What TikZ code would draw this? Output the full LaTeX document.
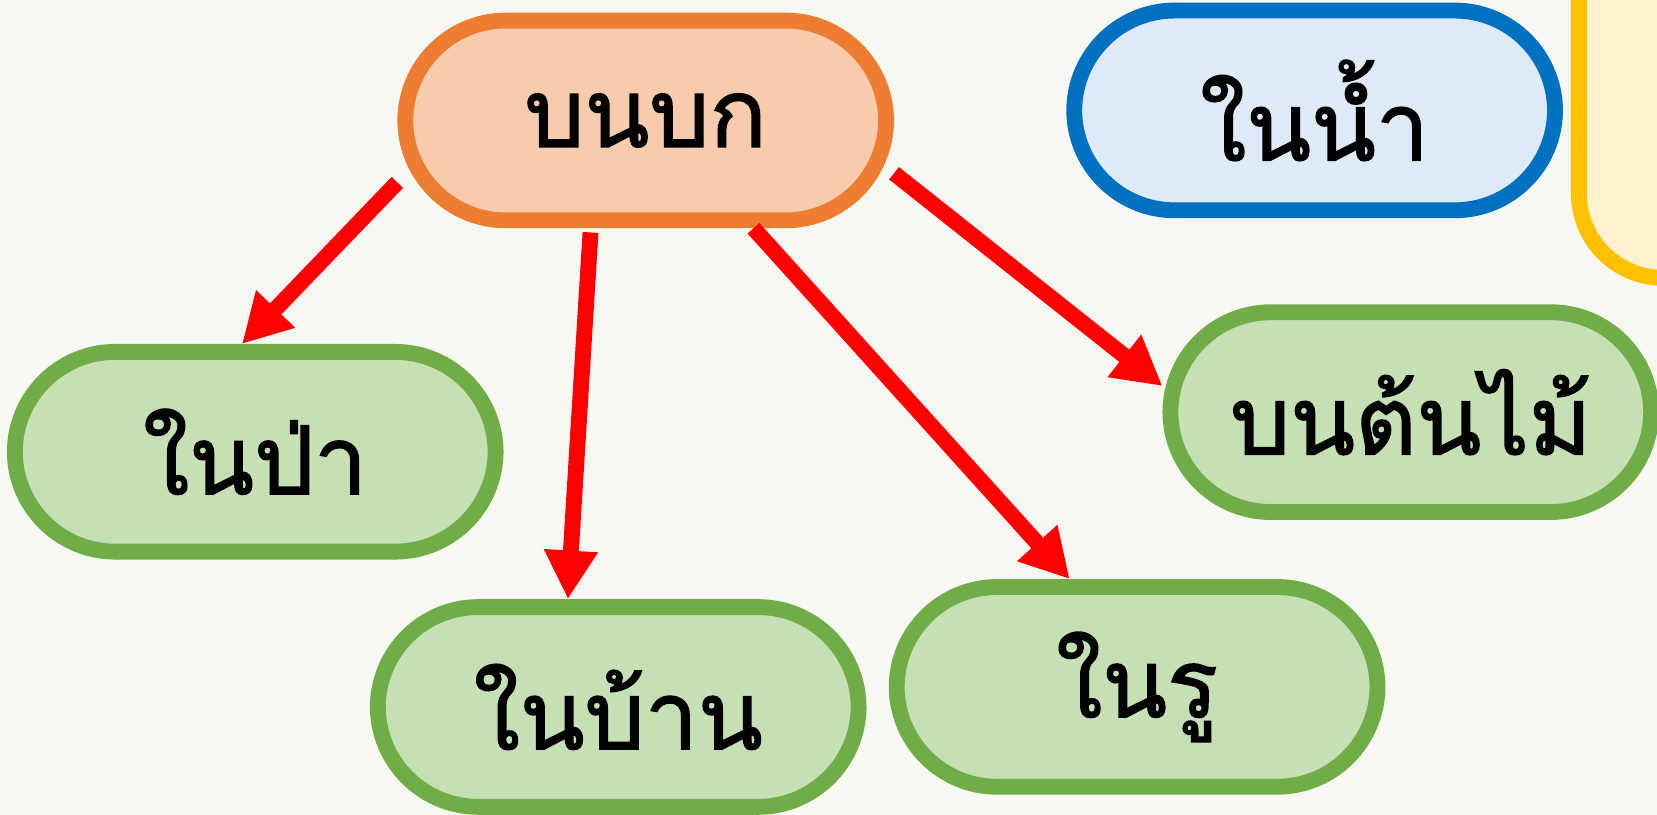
\documentclass[tikz,border=0pt]{standalone}
\usepackage{fontspec}
\newfontfamily\thaifont[Script=Thai,FakeBold=1.6]{Loma}
\usetikzlibrary{arrows.meta}

\definecolor{bgpaper}{HTML}{F8F8F3}
\definecolor{landfill}{HTML}{F8CBAD}
\definecolor{landline}{HTML}{ED7D31}
\definecolor{waterfill}{HTML}{DEEBF7}
\definecolor{waterline}{HTML}{0070C0}
\definecolor{placefill}{HTML}{C5E0B4}
\definecolor{placeline}{HTML}{70AD47}
\definecolor{notefill}{HTML}{FFF2CC}
\definecolor{noteline}{HTML}{FFC000}

\begin{document}
\begin{tikzpicture}[
  pill/.style = {draw, line width = 0.15cm, rounded corners = 0.95cm,
                 minimum width = 4.55cm, minimum height = 1.89cm, inner sep = 0pt,
                 font = \thaifont\fontsize{25.5}{31}\selectfont},
  land/.style = {pill, fill = landfill, draw = landline},
  water/.style = {pill, fill = waterfill, draw = waterline},
  place/.style = {pill, fill = placefill, draw = placeline},
  link/.style = {draw = red, line width = 0.15cm,
                 -{Triangle[length = 0.46cm, width = 0.48cm]}},
  ]
  \clip (0,0) rectangle (15.68,7.71);
  \fill[bgpaper] (0,0) rectangle (15.68,7.71);

  \node[pill, fill = notefill, draw = noteline, minimum width = 4cm,
        minimum height = 4cm, rounded corners = 0.8cm] (note) at (16.94,7.08) {};

  \node[land]  (land)   at (6.11,6.57)  {บนบก};
  \node[water] (water)  at (12.44,6.665) {ในน้ำ};
  \node[place] (forest) at (2.415,3.435) {ในป่า};
  \node[place] (house)  at (5.85,1.02)  {ในบ้าน};
  \node[place] (hole)   at (10.76,1.21) {ในรู};
  \node[place] (tree)   at (13.35,3.81) {บนต้นไม้};

  \draw[link] (land.194) -- (forest.97);
  \draw[link, shorten < = 0.04cm] (land.243) -- (house.115);
  \draw[link] (land.315) -- (hole.122);
  \draw[link] (land.348) -- (tree.174);
\end{tikzpicture}
\end{document}
